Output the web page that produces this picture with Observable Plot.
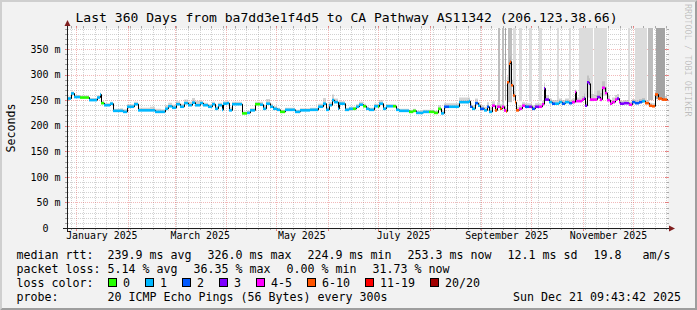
<!DOCTYPE html>
<html><head><meta charset="utf-8">
<script src="https://cdn.jsdelivr.net/npm/d3@7"></script>
<script src="https://cdn.jsdelivr.net/npm/@observablehq/plot@0.6"></script>
<style>
html,body{margin:0;padding:0;background:#f2f2f2;}
#chart{width:697px;height:310px;overflow:hidden;}
text{white-space:pre;}
</style></head><body><div id="chart"></div>
<script>
// ---------------- data ----------------
const titleText = "Last 360 Days from ba7dd3e1f4d5 to CA Pathway AS11342 (206.123.38.66)";
const yAxisTitle = "Seconds";
const watermark = "RRDTOOL / TOBI OETIKER";
const endTime = Date.UTC(2025, 11, 21, 9, 43, 42);
const spanDays = 360;
const yMax = 391;                       // ms at top of chart
const yTicks = [50, 100, 150, 200, 250, 300, 350];
const monthLabels = [[0, "January 2025"], [2, "March 2025"], [4, "May 2025"], [6, "July 2025"], [8, "September 2025"], [10, "November 2025"]];
const lossLabels = ["0", "1", "2", "3", "4-5", "6-10", "11-19", "20/20"];
const lossColors = ["#26ff00", "#00b8ff", "#0059ff", "#7e00ff", "#ff00ff", "#ff5500", "#ff0000", "#a10000"];
const medianStats = ["239.9 ms avg", "326.0 ms max", "224.9 ms min", "253.3 ms now", "12.1 ms sd", "19.8   am/s"];
const lossStats = ["5.14 % avg", "36.35 % max", "0.00 % min", "31.73 % now"];
const probeText = "20 ICMP Echo Pings (56 Bytes) every 300s";
const stampText = "Sun Dec 21 09:43:42 2025";
const rowLabels = ["median rtt:", "packet loss:", "loss color:", "probe:"];

// [day since start, median rtt ms, loss bin index, smoke spread ms]
const rtt = [
[0,254,1,3],[2.4,264,1,3],[4.2,257,1,3],[7.8,256,0,3],[11.4,256,0,3],[13.2,251,1,3],[15,251,1,3],[18,256,1,3],
[19.8,262,1,3],[20.4,245,0,3],[22.2,241,1,3],[25.8,244,1,3],[27.6,230,1,3],[31.8,230,1,4],[33.6,228,1,4],[36,238,1,4],
[40.2,243,1,4],[42.6,231,1,4],[46.2,231,1,4],[49.8,231,1,6],[52.8,228,1,5],[56.4,228,1,4],[58.8,234,1,6],[60.6,239,1,6],
[63,236,1,5],[65.4,243,1,5],[67.8,238,1,5],[70.2,245,1,6],[72.6,241,1,6],[75,246,1,8],[76.8,241,1,8],[79.8,245,1,4],
[81.6,241,1,4],[84.6,238,1,4],[87,243,1,4],[88.8,234,1,4],[90.6,241,1,4],[93,232,1,4],[93.6,244,1,4],[96,245,1,4],
[97.2,231,1,5],[99,243,1,4],[102,243,1,4],[105,225,0,3],[108,226,1,3],[109.8,231,1,3],[112.8,243,0,4],[115.8,242,1,5],
[117.6,234,1,6],[119.4,244,1,8],[121.8,238,1,5],[123.6,234,1,4],[126,232,1,3],[127.8,228,0,3],[130.8,232,1,3],[133.8,232,1,3],
[136.8,228,1,3],[139.8,231,1,3],[142.8,231,1,3],[145.8,232,1,3],[148.8,232,1,3],[150.6,238,1,5],[153.6,244,1,10],[155.4,232,1,4],
[157.2,241,1,5],[159,251,1,10],[160.2,247,1,6],[162.6,234,1,4],[163.2,244,1,4],[165.6,244,1,4],[166.8,232,1,3],[169.2,234,1,3],
[171.6,234,0,3],[173.4,238,1,4],[175.2,242,1,5],[177.6,239,0,4],[179.4,234,1,3],[181.2,232,1,3],[184.2,239,1,4],[186.6,238,0,4],
[187.2,244,1,6],[189.6,234,1,3],[191.4,239,1,3],[195.6,239,0,3],[197.4,232,1,3],[199.2,230,1,3],[203.4,230,1,3],[205.2,228,0,3],
[207.6,230,0,3],[209.4,226,1,3],[213.6,228,1,3],[217.2,228,0,3],[220.2,226,0,3],[222.6,234,0,6],[224.4,225,1,4],[226.2,238,2,6],
[229.2,238,1,6],[232.8,238,1,6],[235.2,247,1,8],[237.6,247,1,8],[240,247,1,8],[241.2,249,1,6],[241.8,238,2,6],[243,234,1,6],
[244.8,245,2,8],[246.6,240,1,6],[247.8,234,2,6],[250.2,231,1,6],[252,238,2,8],[253.2,228,1,8],[255,240,4,8],[256.8,231,5,8],
[258,238,4,8],[259.8,234,5,8],[261,238,4,8],[262.2,231,4,8],[263.4,229,5,6],[264,286,5,10],[265.2,322,5,10],[265.8,326,5,10],
[266.4,280,5,10],[267.6,260,5,8],[268.8,247,5,8],[269.4,231,5,6],[271.2,234,4,6],[273,240,4,6],[274.8,238,2,6],[277.2,238,3,6],
[279,234,2,6],[280.8,238,3,6],[283.2,238,4,6],[285,243,4,6],[286.2,274,3,10],[286.8,252,3,8],[289.2,247,1,6],[291,244,2,6],
[292.8,244,1,6],[295.2,247,1,6],[297,244,2,6],[298.8,247,1,6],[301.2,245,2,6],[303,247,4,6],[304.8,267,4,4],[305.4,249,4,6],
[307.2,249,4,6],[309,252,4,6],[310.2,255,3,8],[310.8,240,3,8],[312,286,3,12],[313.2,283,3,10],[313.8,252,4,10],[316.2,252,4,8],
[318,257,3,12],[319.8,252,4,12],[321,275,4,12],[322.8,265,4,10],[324,251,4,8],[325.8,244,4,6],[327,247,4,8],[328.8,252,4,8],
[330,254,3,8],[331.2,247,4,6],[331.8,244,3,5],[334.2,245,3,5],[336,245,3,5],[337.2,242,4,5],[339,247,2,5],[340.8,245,2,5],
[343.2,247,2,5],[345,249,1,5],[346.8,245,5,5],[349.2,240,5,5],[351,239,5,5],[352.8,262,5,8],[354.6,254,5,6],[357,252,5,6],
[360,253.3,5,6]
];

// pings beyond the top of the chart: [start day, end day, lower edge ms, shade index]
const overflowBars = [
[258.6,259.8,246,1],[261,262.2,246,1],[262.8,263.4,250,2],[264.6,267,246,1],[267.6,269.4,250,0],[271.2,273,248,0],
[277.2,279,247,0],[283.2,285,248,0],[294,295.2,250,0],[301.2,302.4,252,0],[307.2,315.6,255,0],[316.2,324,258,0],
[336.6,337.8,248,0],[340.8,348,250,0],[348.6,351.6,250,1],[353.4,358.8,252,2]
];
const shadeColors = ["#dcdcdc", "#bdbdbd", "#a3a3a3"];

// ---------------- build ----------------
const DAY = 864e5;
const startTime = endTime - spanDays * DAY;
const dayToDate = d => new Date(startTime + d * DAY);
const MONO = "DejaVu Sans Mono, monospace";

const rows = rtt.map(([d, v, b, s]) => ({t: dayToDate(d), v, b, s}));
const steps = rows.slice(0, -1).map((r, i) => ({t1: r.t, t2: rows[i + 1].t, v: r.v, c: lossColors[r.b]}));

const months = d3.utcMonth.range(new Date(startTime), new Date(endTime));
const weeks = d3.utcSunday.range(new Date(startTime), new Date(endTime)).filter(w => w.getUTCDate() !== 1);
const minorY = d3.range(10, yMax, 10).filter(v => v % 50 !== 0);
const majorY = [0, ...yTicks];

const plot = Plot.plot({
  width: 697, height: 310,
  marginLeft: 67, marginRight: 30, marginTop: 28, marginBottom: 82,
  style: {background: "#f2f2f2", fontFamily: MONO, overflow: "visible"},
  x: {type: "utc", domain: [new Date(startTime), new Date(endTime)], axis: null},
  y: {domain: [0, yMax], axis: null},
  color: {type: "identity"},
  marks: [
    Plot.frame({fill: "#ffffff", stroke: null}),
    Plot.rect(overflowBars, {x1: b => dayToDate(b[0]), x2: b => dayToDate(b[1]), y1: b => b[2], y2: yMax, fill: b => shadeColors[b[3]]}),
    Plot.areaY(rows, {x: "t", y1: d => d.v - d.s * 0.4, y2: d => d.v + d.s, curve: "step-after", fill: "#a8a8a8", fillOpacity: 0.5}),
    Plot.line(rows, {x: "t", y: "v", curve: "step-after", stroke: "#000", strokeWidth: 1, strokeLinejoin: "miter", strokeLinecap: "butt"}),
    Plot.ruleY(steps, {x1: "t1", x2: "t2", y: "v", stroke: d => d.c, strokeWidth: 2.6, strokeLinecap: "butt"}),
    Plot.text(yTicks, {y: d => d, text: d => `${d} m`, frameAnchor: "left", dx: -7, textAnchor: "end", fontSize: 10, fill: "#000", fontFamily: MONO}),
    Plot.text([0], {y: d => d, text: d => `${d}`, frameAnchor: "left", dx: -19, textAnchor: "end", fontSize: 10, fill: "#000", fontFamily: MONO}),
    Plot.text(monthLabels, {x: m => new Date(Date.UTC(2025, m[0], 1) + 15 * DAY), text: m => m[1], frameAnchor: "bottom", dy: 10, fontSize: 9.9, fill: "#000", fontFamily: MONO})
  ]
});
document.getElementById("chart").appendChild(plot);

// scales
function scaleFn(name, kind) {
  const s = plot.scale(name);
  if (s && typeof s.apply === "function") return v => s.apply(v);
  const sc = (kind === "utc" ? d3.scaleUtc() : d3.scaleLinear()).domain(s.domain).range(s.range);
  return v => sc(v);
}
const X = scaleFn("x", "utc"), Y = scaleFn("y", "linear");
const X0 = Math.round(X(new Date(startTime))), X1 = Math.round(X(new Date(endTime)));
const Y0 = Math.round(Y(0)), Y1 = Math.round(Y(yMax));
const snap = v => Math.round(v) + 0.5;

const svg = d3.select(plot);
const frameEl = plot.querySelector('[aria-label="frame"]');
const grid = d3.create("svg:g").attr("aria-label", "grid");
const GRID = "#8f8f8f", MGRID = "#de4f4f";
function hline(g, y, x1, x2, c, op, dash) {
  g.append("line").attr("x1", x1).attr("x2", x2).attr("y1", y).attr("y2", y).attr("stroke", c).attr("stroke-opacity", op).attr("stroke-dasharray", dash || null);
}
function vline(g, x, y1, y2, c, op, dash) {
  g.append("line").attr("x1", x).attr("x2", x).attr("y1", y1).attr("y2", y2).attr("stroke", c).attr("stroke-opacity", op).attr("stroke-dasharray", dash || null);
}
minorY.forEach(v => { const y = snap(Y(v)); hline(grid, y, X0 - 1, X1 + 1, GRID, 0.4, "1,1"); hline(grid, y, X0 - 2, X0, GRID, 0.75); hline(grid, y, X1, X1 + 2, GRID, 0.75); });
weeks.forEach(w => { const x = snap(X(w)); vline(grid, x, Y0 + 1, Y1 - 1, GRID, 0.4, "1,1"); vline(grid, x, Y0, Y0 + 2, GRID, 0.75); vline(grid, x, Y1 - 2, Y1, GRID, 0.75); });
majorY.forEach(v => { const y = snap(Y(v)); hline(grid, y, X0 - 2, X1 + 2, MGRID, 0.4, "1,1"); hline(grid, y, X0 - 2, X0 + 2, MGRID, 0.6); hline(grid, y, X1 - 2, X1 + 2, MGRID, 0.6); });
months.forEach(m => { const x = snap(X(m)); vline(grid, x, Y0 + 3, Y1 - 2, MGRID, 0.4, "1,1"); vline(grid, x, Y0, Y0 + 3, MGRID, 0.6); vline(grid, x, Y1 - 2, Y1, MGRID, 0.6); });
frameEl.after(grid.node());

// axes + arrows
const deco = svg.append("g").attr("aria-label", "decoration");
hline(deco, Y0 + 0.5, X0 - 4, X1 + 4, "#1f1f1f", 1);
vline(deco, X0 + 0.5, Y0 + 4, Y1 - 4, "#1f1f1f", 1);
deco.append("path").attr("fill", "#801f1f").attr("d", `M${X1 + 2},${Y0 - 3 + 0.5}L${X1 + 2},${Y0 + 3 + 0.5}L${X1 + 8},${Y0 + 0.5}Z`);
deco.append("path").attr("fill", "#801f1f").attr("d", `M${X0 - 3 + 0.5},${Y1 - 2}L${X0 + 3 + 0.5},${Y1 - 2}L${X0 + 0.5},${Y1 - 8}Z`);

// bevel border
const W = 697, H = 310;
deco.append("path").attr("fill", "#cfcfcf").attr("d", `M0,${H}L2,${H - 2}L2,2L${W - 2},2L${W},0L0,0Z`);
deco.append("path").attr("fill", "#9e9e9e").attr("d", `M2,${H - 2}L${W - 2},${H - 2}L${W - 2},2L${W},0L${W},${H}L0,${H}Z`);

// title, axis title, watermark
const txt = (x, y, s, size, opts = {}) => {
  const t = deco.append("text").attr("x", x).attr("y", y).attr("font-family", MONO).attr("font-size", size)
    .attr("fill", opts.fill || "#000").attr("text-anchor", opts.anchor || "start").attr("xml:space", "preserve").text(s);
  if (opts.transform) t.attr("transform", opts.transform);
  if (opts.opacity) t.attr("fill-opacity", opts.opacity);
  return t;
};
txt(346.5, 22, titleText, 13.05, {anchor: "middle"});
txt(0, 0, yAxisTitle, 11.6, {anchor: "middle", transform: `translate(15,${(Y0 + Y1) / 2}) rotate(-90)`});
txt(0, 0, watermark, 8.5, {fill: "#000", opacity: 0.22, transform: `translate(684.5,4) rotate(90)`});

// legend
const CW = 7.0, FS = 11.63, GAP = 16, LX = 16.4, VX = 107.6;
const rowY = [258.5, 272.5, 286.5, 300.5];
rowLabels.forEach((l, i) => txt(LX, rowY[i], l, FS));
let x = VX;
medianStats.forEach(s => { txt(x, rowY[0], s, FS); x += s.length * CW + GAP; });
x = VX;
lossStats.forEach(s => { txt(x, rowY[1], s, FS); x += s.length * CW + GAP; });
x = VX + 0.5;
lossLabels.forEach((l, i) => {
  deco.append("rect").attr("x", Math.round(x) + 0.5).attr("y", rowY[2] - 8).attr("width", 8).attr("height", 8)
    .attr("fill", lossColors[i]).attr("stroke", "#000").attr("stroke-width", 1);
  txt(x + 15, rowY[2], l, FS);
  x += 15 + l.length * CW + 15;
});
txt(VX, rowY[3], probeText, FS);
txt(681, rowY[3], stampText, FS, {anchor: "end"});
</script></body></html>
